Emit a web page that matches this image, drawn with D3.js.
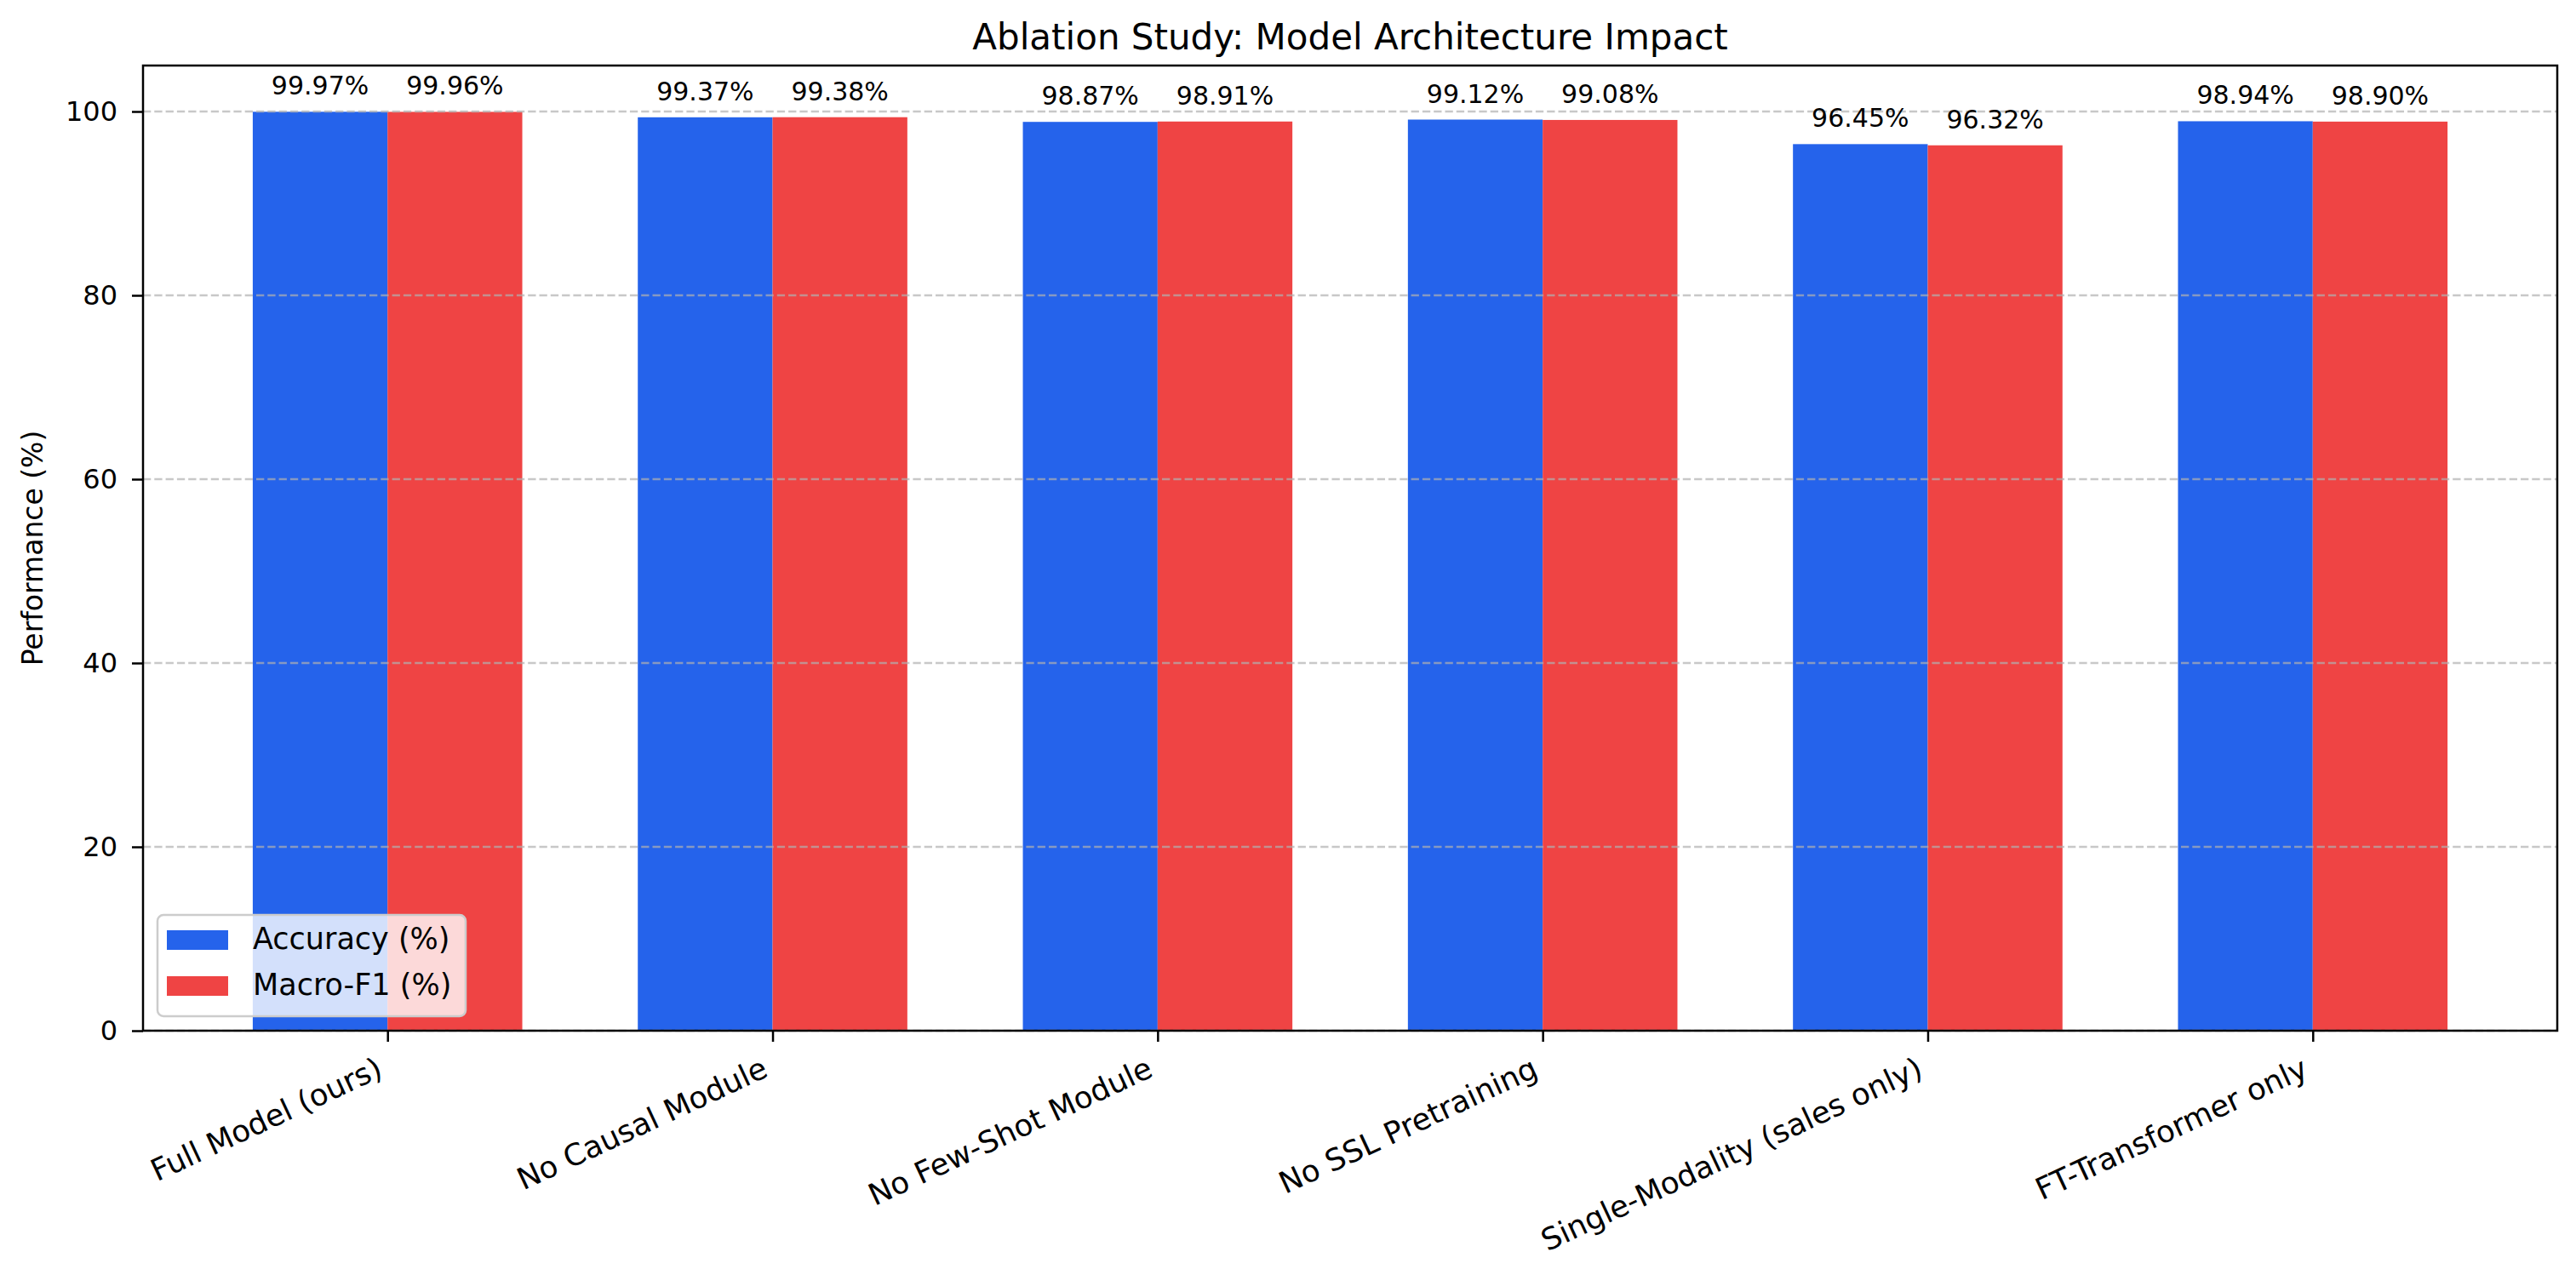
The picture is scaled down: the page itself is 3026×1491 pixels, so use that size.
<!DOCTYPE html>
<html>
<head>
<meta charset="utf-8">
<script src="https://cdn.jsdelivr.net/npm/d3@7"></script>
<style>
  html, body { margin: 0; padding: 0; background: #ffffff; }
  svg { display: block; font-family: "DejaVu Sans", sans-serif; }
</style>
</head>
<body>
<svg id="chart" width="3026" height="1491"></svg>
<script>
// ---- data ----
const categories = ["Full Model (ours)", "No Causal Module", "No Few-Shot Module", "No SSL Pretraining", "Single-Modality (sales only)", "FT-Transformer only"];
const accuracy = [99.97, 99.37, 98.87, 99.12, 96.45, 98.94];
const macroF1 = [99.96, 99.38, 98.91, 99.08, 96.32, 98.90];
const seriesNames = ["Accuracy (%)", "Macro-F1 (%)"];
const yTicks = [0, 20, 40, 60, 80, 100];
const titleText = "Ablation Study: Model Architecture Impact";
const yLabelText = "Performance (%)";

(function () {
// ---- layout ----
const W = 3026, H = 1491;
const pLeft = 168, pRight = 3004, pTop = 77, pBottom = 1211;
const colors = ["#2563EB", "#EF4444"];
const barW = 0.35;

const svg = d3.select("#chart");
svg.append("rect").attr("width", W).attr("height", H).attr("fill", "#fff");

const x = d3.scaleLinear().domain([-0.635, categories.length - 1 + 0.635]).range([pLeft, pRight]);
const y = d3.scaleLinear().domain([0, 105]).range([pBottom, pTop]);

const series = [accuracy, macroF1];

// bars
series.forEach((vals, si) => {
  svg.append("g").selectAll("rect").data(vals).join("rect")
    .attr("x", (d, i) => x(i + (si === 0 ? -barW : 0)))
    .attr("width", x(barW) - x(0))
    .attr("y", d => y(d))
    .attr("height", d => y(0) - y(d))
    .attr("fill", colors[si]);
});

// grid (drawn over bars, like matplotlib default)
svg.append("g").selectAll("line").data(yTicks).join("line")
  .attr("x1", pLeft).attr("x2", pRight)
  .attr("y1", d => y(d)).attr("y2", d => y(d))
  .attr("stroke", "#b0b0b0").attr("stroke-opacity", 0.7)
  .attr("stroke-width", 2.5).attr("stroke-dasharray", "9.3,4");

// value labels
series.forEach((vals, si) => {
  svg.append("g").selectAll("text").data(vals).join("text")
    .attr("x", (d, i) => x(i + (si === 0 ? -barW / 2 : barW / 2)))
    .attr("y", d => y(d) - 20)
    .attr("text-anchor", "middle")
    .attr("font-size", 30)
    .attr("fill", "#000")
    .text(d => d.toFixed(2) + "%");
});

// y axis
const yAxis = d3.axisLeft(y).tickValues(yTicks).tickSize(13).tickPadding(17).tickFormat(d3.format("d"));
const gy = svg.append("g").attr("transform", `translate(${pLeft},0)`).call(yAxis);
gy.select(".domain").remove();
gy.selectAll(".tick line").attr("stroke", "#000").attr("stroke-width", 2.5);
gy.selectAll(".tick text").attr("font-size", 32).attr("fill", "#000").attr("font-family", "DejaVu Sans");

// x axis
const xAxis = d3.axisBottom(x).tickValues(d3.range(categories.length)).tickSize(13).tickFormat(() => "");
const gx = svg.append("g").attr("transform", `translate(0,${pBottom})`).call(xAxis);
gx.select(".domain").remove();
gx.selectAll(".tick line").attr("stroke", "#000").attr("stroke-width", 2.5);

// rotated x tick labels (rotation 25, ha right)
const fsX = 35.5;
const ang = 25 * Math.PI / 180;
const hBox = 1.164 * fsX;
svg.append("g").selectAll("g").data(categories).join("g")
  .attr("transform", (d, i) => `translate(${x(i)},${pBottom + 13 + 10 + hBox * Math.cos(ang)}) rotate(-25)`)
  .append("text")
  .attr("text-anchor", "end")
  .attr("dy", -0.236 * fsX)
  .attr("font-size", fsX)
  .attr("fill", "#000")
  .text(d => d);

// spines
svg.append("rect").attr("x", pLeft).attr("y", pTop).attr("width", pRight - pLeft).attr("height", pBottom - pTop)
  .attr("fill", "none").attr("stroke", "#000").attr("stroke-width", 2.5);

// title
svg.append("text").attr("x", (pLeft + pRight) / 2).attr("y", 58)
  .attr("text-anchor", "middle").attr("font-size", 42).attr("fill", "#000").text(titleText);

// y label
svg.append("text").attr("transform", `translate(50,${(pTop + pBottom) / 2}) rotate(-90)`)
  .attr("text-anchor", "middle").attr("font-size", 33).attr("fill", "#000").text(yLabelText);

// legend
const lg = svg.append("g");
lg.append("rect").attr("x", 185).attr("y", 1075).attr("width", 362).attr("height", 119)
  .attr("rx", 7).attr("fill", "#fff").attr("fill-opacity", 0.8)
  .attr("stroke", "#cccccc").attr("stroke-width", 2.5);
seriesNames.forEach((name, i) => {
  const yy = 1093 + i * 54;
  lg.append("rect").attr("x", 196).attr("y", yy).attr("width", 72).attr("height", 23).attr("fill", colors[i]);
  lg.append("text").attr("x", 297).attr("y", yy + 22).attr("font-size", 35).attr("fill", "#000").text(name);
});
})();
</script>
</body>
</html>
